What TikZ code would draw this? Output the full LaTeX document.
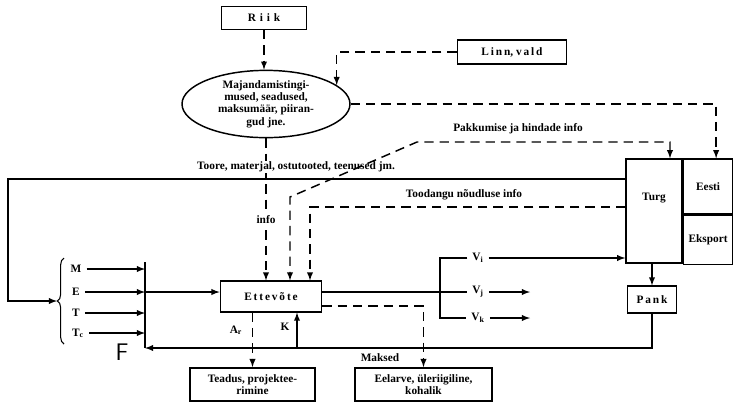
\documentclass[tikz,border=0pt]{standalone}
\usepackage{fontspec}
\setmainfont{Liberation Serif}
\usetikzlibrary{arrows,shapes.geometric,decorations.pathreplacing}

\begin{document}
\begin{tikzpicture}[x=0.75pt,y=-0.75pt,line width=1.1pt,
    font=\fontsize{8.5}{9.3}\selectfont\bfseries,
    box/.style={draw,inner sep=1pt,align=center},
    infoline/.style={dash pattern=on 7pt off 4.5pt}]
  \useasboundingbox (0,0) rectangle (733,405);

  \node[box,minimum width=64pt,minimum height=17pt](riik) at (264,18){R\,\,i\,\,i\,\,k};
  \node[box,minimum width=82pt,minimum height=18pt](linn) at (512,52){L\,i\,n\,n, v\,a\,l\,d};
  \node[draw,ellipse,inner sep=0pt,align=center,minimum width=126pt,minimum height=50pt](ting) at (266,104)
    {Majandamistingi-\\mused, seadused,\\maksumäär, piiran-\\gud jne.};

  \node[box,minimum width=42pt,minimum height=78pt,text depth=22pt](turg) at (654,211){Turg};
  \node[box,anchor=north west,minimum width=37pt,minimum height=41pt](eesti) at (turg.north east){Eesti};
  \node[box,anchor=north west,minimum width=37pt,minimum height=37pt](eksport) at (eesti.south west){Eksport};

  \node[box,minimum width=76pt,minimum height=23pt](ettev) at (271,296.5){E\,t\,t\,e\,v\,õ\,t\,e};
  \node[box,minimum width=37pt,minimum height=20pt](pank) at (652,299.5){P\,a\,n\,k};
  \node[box,minimum width=94pt,minimum height=25pt](teadus) at (252.5,384.5){Teadus, projektee-\\rimine};
  \node[box,minimum width=103pt,minimum height=25pt](eelarve) at (423.5,384.5){Eelarve, üleriigiline,\\kohalik};

  % tegurid
  \node(m) at (76,269){M};
  \node(e) at (76,292){E};
  \node(t) at (76,313){T};
  \node(tc) at (78,333){T\textsubscript{c}};
  \draw[line width=0.8pt,decorate,decoration={brace,amplitude=5pt}] (64,344) -- (64,258);
  \coordinate (bt) at (57,301);
  \coordinate (ftop) at (145,262);
  \coordinate (fbot) at (145,348);
  \draw (ftop) -- (fbot);
  \foreach \n in {m,e,t,tc}
    \draw[-latex] (\n.east) -- (\n -| ftop);
  \draw[-latex] (e -| ftop) -- (e -| ettev.west);
  \node[font=\fontsize{18}{18}\selectfont\sffamily](f) at (122,352){F};

  % toore
  \coordinate (tl) at (8,179);
  \coordinate (bl) at (8,301);
  \draw[-latex] (tl -| turg.west) -- (tl) -- (bl) -- (bt);

  % riik, linn
  \draw[infoline,-latex] (riik) -- (riik |- ting.north);
  \draw[infoline,-latex] (linn) -| (ting.15);
  \draw[infoline,-latex] (ting) -| ([xshift=6pt]eesti.north);

  \draw[infoline,-latex] (ting.south) -- (ting.south |- ettev.north);
  \node[fill=white,inner sep=1pt] at (266,220){info};
  \node[fill=white,inner sep=1pt](toore) at (296,167){Toore, materjal, ostutooted, teenused jm.};

  % pakkumine
  \coordinate (pk1) at (417,142);
  \coordinate (pk2) at (290,197);
  \draw[infoline,latex-latex] ([xshift=12pt]turg.north) |- (pk1) -- (pk2) -- (pk2 |- ettev.north);
  \node at (518,129){Pakkumise ja hindade info};

  % noudlus
  \coordinate (td) at (310,207);
  \draw[infoline,-latex] (td -| turg.west) -- (td) -- (td |- ettev.north);
  \node at (464,195){Toodangu nõudluse info};

  % toodang
  \node(vi) at (478,258){V\textsubscript{i}};
  \node(vj) at (478,292){V\textsubscript{j}};
  \node(vk) at (478,318){V\textsubscript{k}};
  \coordinate (fk) at (440,0);
  \coordinate (vend) at (530,0);
  \draw (vi.west) -- (vi -| fk) -- (vk -| fk) -- (vk.west);
  \draw (vj -| ettev.east) -- (vj.west);
  \draw[-latex] (vi.east) -- (vi -| turg.west);
  \draw[-latex] (vj.east) -- (vj -| vend);
  \draw[-latex] (vk.east) -- (vk -| vend);

  \draw[-latex] (pank |- turg.south) -- (pank);
  \draw[-latex] (pank) |- (fbot);

  \coordinate (kb) at (297,348);
  \draw[-latex] (kb) -- (kb |- ettev.south);
  \node at (285,327){K};
  \draw[infoline,-latex] (teadus |- ettev.south) -- (teadus);
  \node at (236,330){A\textsubscript{r}};
  \draw[infoline,-latex] ([yshift=-7pt]ettev.east) -| (eelarve);
  \node at (380,358){Maksed};
\end{tikzpicture}
\end{document}
